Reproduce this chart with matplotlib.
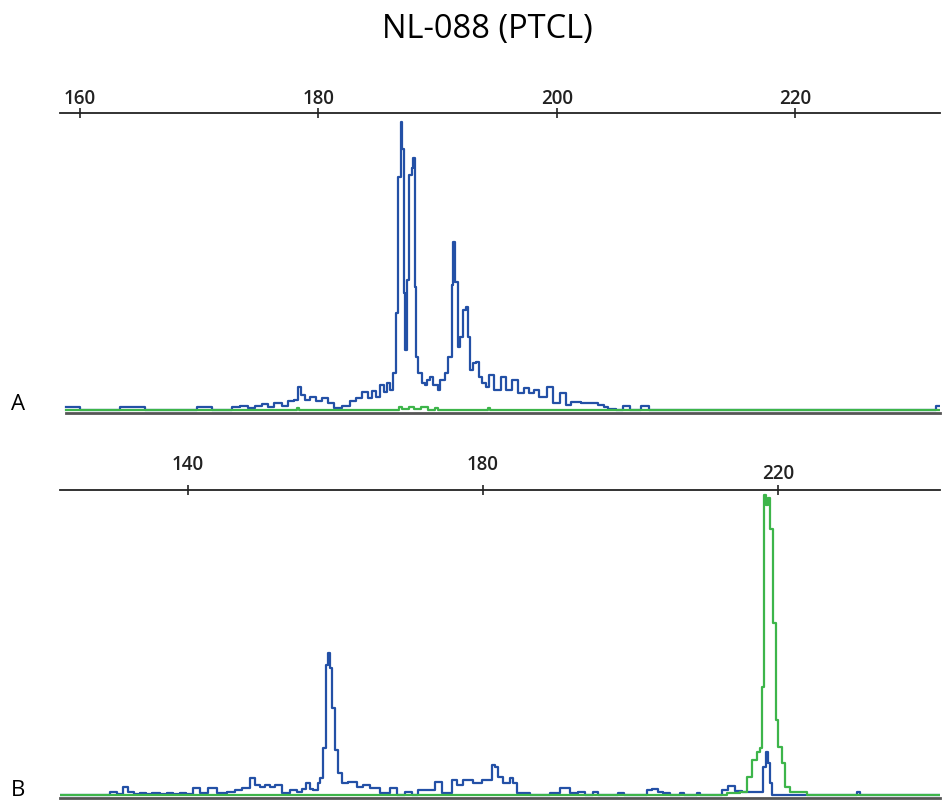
import matplotlib.pyplot as plt
from matplotlib.transforms import offset_copy

plt.rcParams['font.family'] = ['Open Sans', 'DejaVu Sans']

# panel A: fragment size (bp) and relative fluorescence (0-100)
a_blue_bp = [158.82, 159.33, 160.0, 163.36, 165.46, 169.83, 171.09, 172.77, 173.45, 174.12,
             174.71, 175.29, 175.80, 176.30, 176.97, 177.48, 177.98, 178.32, 178.57, 178.91,
             179.33, 179.83, 180.34, 180.84, 181.34, 182.02, 182.69, 183.19, 183.70, 184.20,
             184.54, 184.87, 185.21, 185.55, 185.80, 186.05, 186.30, 186.55, 186.72, 186.93,
             187.06, 187.18, 187.31, 187.48, 187.65, 187.82, 187.98, 188.07, 188.19, 188.40,
             188.66, 188.91, 189.16, 189.41, 189.66, 190.00, 190.25, 190.67, 190.92, 191.18,
             191.34, 191.51, 191.68, 191.93, 192.10, 192.35, 192.52, 192.69, 192.94, 193.19,
             193.45, 193.70, 194.03, 194.29, 194.71, 195.29, 195.71, 196.22, 196.72, 197.23,
             197.65, 198.07, 198.49, 199.16, 199.66, 200.25, 200.76, 201.18, 202.02, 203.45,
             203.95, 204.29, 204.96, 205.55, 206.13, 207.06, 207.73, 231.85, 232.3]
a_blue_h = [1.0, 1.0, 0, 1.0, 0, 1.0, 0, 1.0, 1.5, 0.7,
            1.3, 2.0, 1.0, 2.3, 1.3, 3.0, 3.4, 7.7, 5.0, 3.4,
            4.4, 3.0, 4.0, 2.4, 0.7, 1.5, 3.0, 4.0, 6.0, 4.0,
            6.4, 4.5, 8.4, 6.0, 9.0, 6.7, 12.5, 32.7, 78.5, 97.0,
            88.0, 39.4, 20.2, 43.8, 79.0, 81.5, 85.0, 41.4, 17.8, 12.5,
            9.0, 8.4, 10.0, 11.0, 8.4, 6.7, 10.0, 12.5, 17.8, 42.0,
            56.6, 43.0, 21.2, 24.6, 33.7, 34.7, 24.6, 13.5, 15.8, 16.2,
            11.0, 9.0, 7.7, 11.8, 6.7, 11.0, 6.7, 10.0, 5.7, 7.4,
            5.7, 6.7, 4.4, 7.7, 2.4, 5.7, 1.7, 2.7, 2.4, 1.7,
            1.0, 0.3, 0, 1.2, 0, 1.2, 0, 1.2, 1.2]
a_green_bp = [158.82, 178.2, 178.4, 186.8, 187.0, 187.6, 188.0, 188.6, 189.2, 189.8, 190.0,
              194.2, 194.4, 232.3]
a_green_h = [0, 0.8, 0, 1.0, 0.5, 1.0, 0.3, 1.0, 0, 0.6, 0, 0.8, 0, 0]

# panel B
b_blue_bp = [122.64, 128.75, 129.42, 130.37, 131.19, 131.86, 132.68, 133.49, 134.31, 135.12,
             136.20, 137.15, 137.97, 138.92, 139.73, 140.68, 141.63, 142.71, 143.93, 145.29,
             146.37, 147.32, 148.41, 149.08, 149.76, 150.44, 151.12, 151.80, 152.75, 153.83,
             154.78, 155.46, 156.00, 156.54, 156.95, 157.63, 157.90, 158.31, 158.71, 158.98,
             159.25, 159.53, 159.93, 160.34, 160.88, 161.69, 162.92, 163.73, 164.68, 166.03,
             167.39, 168.34, 169.42, 170.37, 171.19, 172.41, 173.49, 174.44, 175.80, 176.47,
             177.29, 178.64, 179.86, 180.54, 181.22, 181.63, 182.03, 182.71, 183.66, 184.07,
             184.61, 185.69, 186.37, 189.08, 190.44, 191.80, 192.88, 193.83, 194.92, 195.59,
             197.49, 198.31, 199.12, 201.56, 202.24, 202.92, 203.73, 204.41, 205.36, 206.71,
             207.25, 209.02, 209.42, 211.86, 212.41, 213.22, 214.17, 215.12, 216.88, 217.56,
             217.97, 218.37, 218.64, 218.92, 219.19, 230.44, 230.71, 231.12, 241.97]
b_blue_h = [0, 0, 1.0, 0.3, 2.6, 1.0, 0.3, 0.7, 0.2, 0.5,
            0.2, 0.5, 0.2, 0.7, 0.3, 2.3, 0.7, 2.3, 0.7, 1.0,
            1.6, 2.3, 5.6, 3.3, 2.6, 3.3, 2.6, 3.3, 0.7, 1.6,
            1.0, 2.0, 3.9, 2.0, 1.6, 4.0, 5.6, 15.4, 42.6, 46.6,
            41.6, 28.5, 14.8, 7.2, 3.9, 4.3, 2.6, 3.3, 2.3, 0.7,
            2.3, 0, 1.0, 0, 1.6, 1.6, 4.3, 0.7, 4.9, 3.3,
            4.9, 3.9, 4.9, 4.9, 9.8, 9.2, 5.9, 3.9, 5.6, 3.9,
            0.7, 0.7, 0, 0.7, 2.3, 0.7, 1.0, 0, 1.0, 0,
            0, 0.5, 0, 0, 1.6, 2.0, 1.0, 0.7, 0, 0.5,
            0, 0.5, 0, 0, 1.6, 2.9, 1.3, 1.0, 1.0, 1.0,
            9.2, 14.1, 10.5, 3.9, 0, 0, 1.0, 0, 0]
b_green_bp = [122.64, 212.14, 213.08, 214.85, 215.80, 216.47, 217.15, 217.56, 217.83, 218.10,
              218.37, 218.64, 218.92, 219.32, 219.73, 220.00, 220.54, 220.95, 221.63, 223.93, 241.97]
b_green_h = [0, 0, 0.7, 1.0, 5.9, 11.5, 14.1, 15.4, 35.4, 98.4,
             95.0, 97.5, 87.2, 56.4, 24.6, 15.7, 10.5, 2.6, 1.0, 0, 0]

a_ticks = [160, 180, 200, 220]
b_ticks = [140, 180, 220]

blue = '#2350a6'
green = '#3db54a'

fig = plt.figure(figsize=(9.43, 8.01), dpi=100)
fig.text(0.517, 0.963, 'NL-088 (PTCL)', ha='center', va='center', fontsize=23.5)


def panel(rect, xlim, ticks, label_lift, blue_bp, blue_h, green_bp, green_h, letter, letter_y):
    ax = fig.add_axes(rect)
    ax.plot(blue_bp, blue_h, color=blue, lw=1.6, drawstyle='steps-post', zorder=2)
    ax.plot(green_bp, green_h, color=green, lw=1.6, drawstyle='steps-post', zorder=3)
    ax.set_xlim(*xlim)
    ax.set_ylim(-1, 100)
    ax.set_xticks(ticks)
    ax.xaxis.tick_top()
    ax.tick_params(axis='x', direction='inout', length=7, width=1.2,
                   labeltop=False, colors='#222222')
    # tick labels drawn by hand: the source figure sets them at uneven heights
    for t, lift in zip(ticks, label_lift):
        tr = offset_copy(ax.get_xaxis_transform(), fig=fig, y=lift, units='points')
        ax.text(t, 1.0, str(t), transform=tr, ha='center', va='baseline',
                fontsize=13.5, fontweight='semibold', color='#222222')
    ax.set_yticks([])
    ax.spines['left'].set_visible(False)
    ax.spines['right'].set_visible(False)
    ax.spines['top'].set_color('#222222')
    ax.spines['top'].set_linewidth(1.3)
    ax.spines['bottom'].set_color('#555555')
    ax.spines['bottom'].set_linewidth(2)
    ax.spines['bottom'].set_bounds(blue_bp[0], xlim[1])
    fig.text(0.019, letter_y, letter, ha='center', va='center', fontsize=16)
    return ax


panel([60 / 943, 1 - 413 / 801, 880 / 943, 300 / 801], (158.32, 232.17), a_ticks,
      [6.8, 6.8, 6.8, 6.8],
      a_blue_bp, a_blue_h, a_green_bp, a_green_h, 'A', 1 - 405 / 801)
panel([60 / 943, 1 - 798 / 801, 880 / 943, 308 / 801], (122.64, 241.97), b_ticks,
      [14.4, 14.4, 7.9],
      b_blue_bp, b_blue_h, b_green_bp, b_green_h, 'B', 1 - 790 / 801)

fig.savefig('out.png', dpi=100)
